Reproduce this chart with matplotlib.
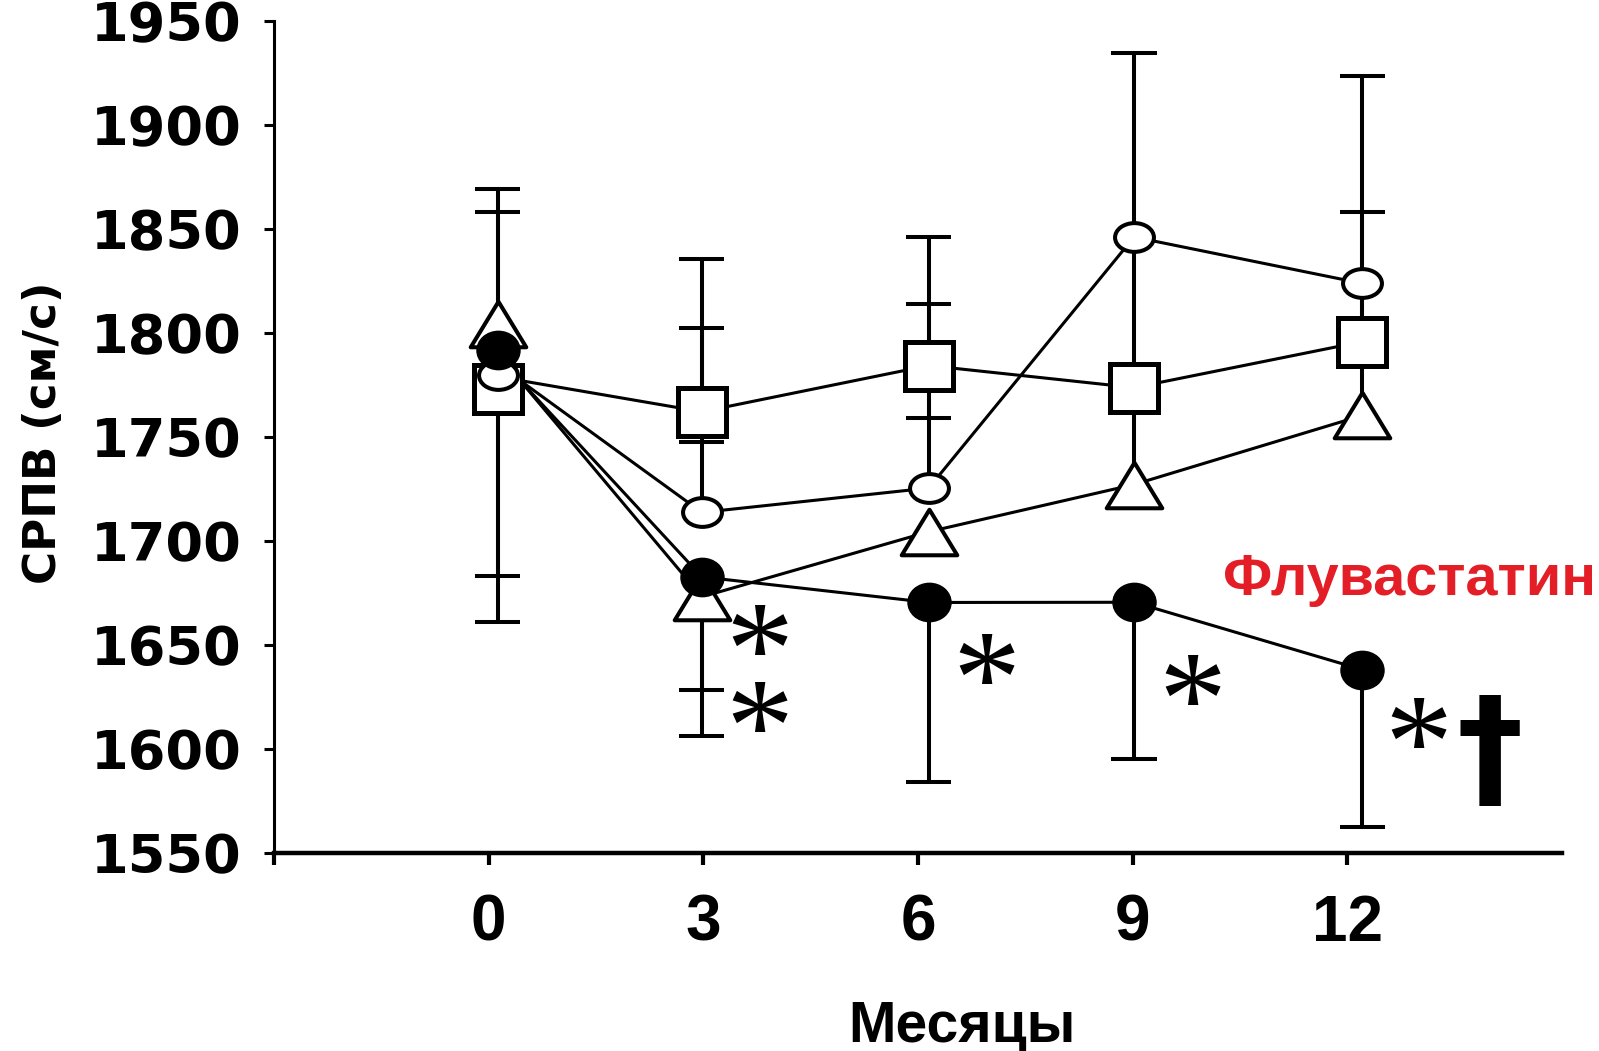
import numpy as np
import matplotlib
matplotlib.use("Agg")
import matplotlib.pyplot as plt
from matplotlib.path import Path
from matplotlib.markers import MarkerStyle
from matplotlib.transforms import Affine2D

months = [0, 3, 6, 9, 12]
month_labels = ["0", "3", "6", "9", "12"]
# the point columns sit a little right of some ticks in the original
col_x = [0.13, 2.98, 6.15, 9.02, 12.21]

square_vals = [1772.7, 1762.0, 1784.2, 1773.6, 1795.7]
circle_vals = [1779.7, 1713.6, 1725.3, 1846.0, 1823.7]
triangle_vals = [1804.0, 1673.0, 1704.3, 1727.0, 1760.2]
fluva_vals = [1791.7, 1682.6, 1670.3, 1670.4, 1638.0]

# all four curves leave month 0 from one common point
start_x = 0.44
start_val = 1777

# error bar ends (None = no bar)
square_hi = [1857.9, 1835.5, 1846.0, None, 1858.0]
square_lo = [1683.0, 1747.3, 1759.2, None, None]
circle_hi = [1869.3, 1802.4, 1813.8, 1934.5, 1923.4]
circle_lo = [None, None, None, 1773.6, 1795.7]
triangle_hi = [None, None, None, 1773.6, 1795.7]
triangle_lo = [None, 1628.0, None, None, None]
fluva_lo = [1660.8, 1606.0, 1584.0, 1594.9, 1562.5]

# significance marks
sig_text = ["*\n*", "*", "*", "*"]
sig_x = [3.78, 6.96, 9.83, 12.99]
sig_y = [1637.7, 1642, 1632.2, 1611.4]
dagger_x, dagger_y = 14.0, 1598.6

plt.rcParams["font.family"] = ["DejaVu Sans"]

fig = plt.figure(figsize=(15.99, 10.51), dpi=100)
ax = fig.add_axes([0.17136, 0.18868, 0.80544, 0.79163])
ax.set_xlim(-3, 15)
ax.set_ylim(1550, 1950)

cap_w = 0.315
bar_lw = 2.9


def draw_bars(ys, ends):
    for x, y, e in zip(col_x, ys, ends):
        if e is None:
            continue
        ax.plot([x, x], [y, e], color="k", lw=bar_lw, zorder=2,
                solid_capstyle="butt")
        ax.plot([x - cap_w, x + cap_w], [e, e], color="k", lw=bar_lw,
                zorder=2, solid_capstyle="butt")


for vals, ends in [(square_vals, square_hi), (square_vals, square_lo),
                   (circle_vals, circle_hi), (circle_vals, circle_lo),
                   (triangle_vals, triangle_hi), (triangle_vals, triangle_lo),
                   (fluva_vals, fluva_lo)]:
    draw_bars(vals, ends)

for vals in [square_vals, circle_vals, triangle_vals, fluva_vals]:
    ax.plot([start_x] + col_x[1:], [start_val] + vals[1:], color="k",
            lw=2.2, zorder=1.5)

ellipse_open = Path.unit_circle().transformed(Affine2D().scale(1, 0.74))
ellipse_full = Path.unit_circle().transformed(Affine2D().scale(1, 0.89))
tri = Path([(-1, -0.82), (1, -0.82), (0, 0.82), (-1, -0.82)], closed=True)

ax.plot(col_x, square_vals, ls="none", marker="s", ms=34.5, mfc="white",
        mec="k", mew=3.6, zorder=3)
ax.plot(col_x, triangle_vals, ls="none",
        marker=MarkerStyle(tri, joinstyle="miter"), ms=40, mfc="white",
        mec="k", mew=2.9, zorder=4)
ax.plot(col_x, circle_vals, ls="none", marker=ellipse_open, ms=28,
        mfc="white", mec="k", mew=2.9, zorder=5)
ax.plot(col_x, fluva_vals, ls="none", marker=ellipse_full, ms=31,
        mfc="k", mec="k", mew=1, zorder=6)

for s, x, y in zip(sig_text, sig_x, sig_y):
    ax.annotate(s, xy=(x, y), xytext=(0, -21), textcoords="offset points",
                ha="center", va="center", fontsize=98,
                family="Liberation Serif", linespacing=0.51, zorder=7)
ax.annotate("\u2020", xy=(dagger_x, dagger_y), xytext=(0, -3),
            textcoords="offset points", ha="center", va="center",
            fontsize=96, fontweight="bold", zorder=7)

ax.text(10.27, 1673.9, "Флувастатин", color="#e41e26", fontsize=41.5,
        fontweight="bold", family="Liberation Sans", ha="left",
        va="baseline")

for side in ["top", "right"]:
    ax.spines[side].set_visible(False)
ax.spines["left"].set_linewidth(2.2)
ax.spines["bottom"].set_linewidth(3.2)

ax.set_yticks(np.arange(1550, 1951, 50))
ax.set_xticks([-3] + months)
ax.set_xticklabels([""] + month_labels)
ax.tick_params(axis="y", direction="out", length=7.2, width=2.2, pad=16,
               labelsize=39)
ax.tick_params(axis="x", direction="out", length=8.6, width=3, pad=21,
               labelsize=46)
for lbl in ax.get_yticklabels():
    lbl.set_fontweight("bold")
for lbl in ax.get_xticklabels():
    lbl.set_fontweight("bold")
    lbl.set_family("Liberation Sans")

ax.set_xlabel("Месяцы", fontsize=41, fontweight="bold",
              family="Liberation Sans", va="top")
ax.xaxis.set_label_coords(0.534, -0.177)
ax.set_ylabel("СРПВ (см/с)", fontsize=32.5, fontweight="bold", va="center")
ax.yaxis.set_label_coords(-0.179, 0.505)

fig.savefig("out.png", dpi=100)
